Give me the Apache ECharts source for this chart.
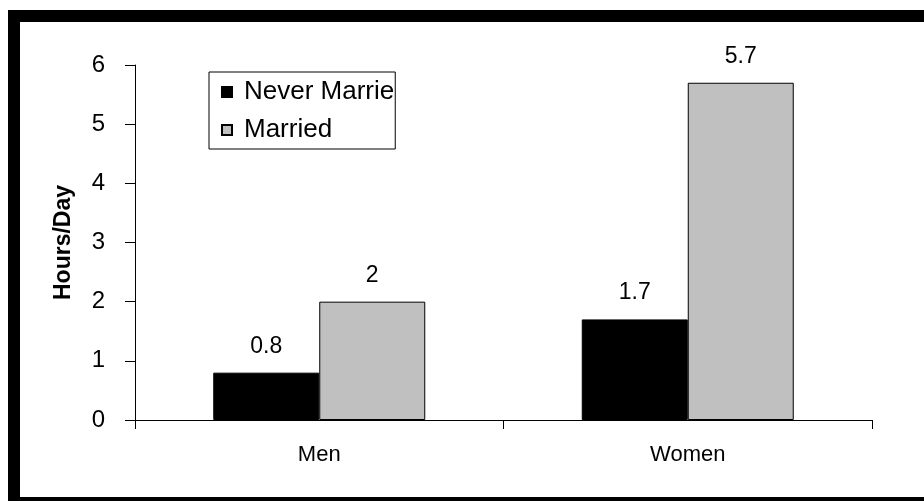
<!DOCTYPE html>
<html>
<head>
<meta charset="utf-8">
<script src="https://cdn.jsdelivr.net/npm/echarts@6/dist/echarts.min.js"></script>
<style>
  html, body { margin: 0; padding: 0; background: #ffffff; }
  #chart { width: 924px; height: 501px; }
</style>
</head>
<body>
<div id="chart"></div>
<script>
// Daily hours by marital status
const categories = ['Men', 'Women'];
const neverMarried = [0.8, 1.7];
const married = [2, 5.7];
const yTicks = [0, 1, 2, 3, 4, 5, 6];

const FONT = '"Liberation Sans", Arial, sans-serif';

const chart = echarts.init(document.getElementById('chart'), null, { renderer: 'canvas' });

const labelStyle = {
  show: true,
  position: 'top',
  distance: 15,
  color: '#000',
  fontFamily: FONT,
  fontSize: 23
};

chart.setOption({
  animation: false,
  backgroundColor: '#ffffff',
  graphic: [{
    type: 'rect',
    silent: true,
    z: 100,
    shape: { x: 14, y: 16, width: 924, height: 487 },
    style: { fill: 'none', stroke: '#000', lineWidth: 12 }
  }],
  grid: { left: 135, right: 52, top: 65, bottom: 81, containLabel: false },
  legend: {
    orient: 'vertical',
    left: 209,
    top: 72,
    padding: [7, 1, 6, 12],
    itemGap: 12,
    itemWidth: 10,
    itemHeight: 10,
    icon: 'rect',
    borderColor: '#000',
    borderWidth: 1,
    backgroundColor: '#fff',
    textStyle: {
      color: '#000',
      fontFamily: FONT,
      fontSize: 26,
      width: 159,
      overflow: 'truncate',
      ellipsis: '',
      padding: [0, 0, 0, 7]
    },
    data: ['Never Married', 'Married']
  },
  xAxis: {
    type: 'category',
    data: categories,
    axisLine: { lineStyle: { color: '#000', width: 1 } },
    axisTick: { show: true, length: 9, alignWithLabel: false, lineStyle: { color: '#000' } },
    axisLabel: { color: '#000', fontFamily: FONT, fontSize: 22, margin: 24 }
  },
  yAxis: {
    type: 'value',
    min: yTicks[0],
    max: yTicks[yTicks.length - 1],
    interval: 1,
    name: 'Hours/Day',
    nameLocation: 'middle',
    nameRotate: 90,
    nameGap: 60,
    nameTextStyle: { color: '#000', fontFamily: FONT, fontSize: 23, fontWeight: 'bold' },
    axisLine: { show: true, lineStyle: { color: '#000', width: 1 } },
    axisTick: { show: true, length: 10, lineStyle: { color: '#000' } },
    splitLine: { show: false },
    axisLabel: { color: '#000', fontFamily: FONT, fontSize: 24, margin: 30 }
  },
  series: [
    {
      name: 'Never Married',
      type: 'bar',
      data: neverMarried,
      barWidth: 106,
      barGap: '0%',
      itemStyle: { color: '#000000', borderColor: '#000', borderWidth: 1 },
      label: labelStyle
    },
    {
      name: 'Married',
      type: 'bar',
      data: married,
      barWidth: 106,
      barGap: '0%',
      itemStyle: { color: '#c0c0c0', borderColor: '#000', borderWidth: 1 },
      label: labelStyle
    }
  ]
});
</script>
</body>
</html>
